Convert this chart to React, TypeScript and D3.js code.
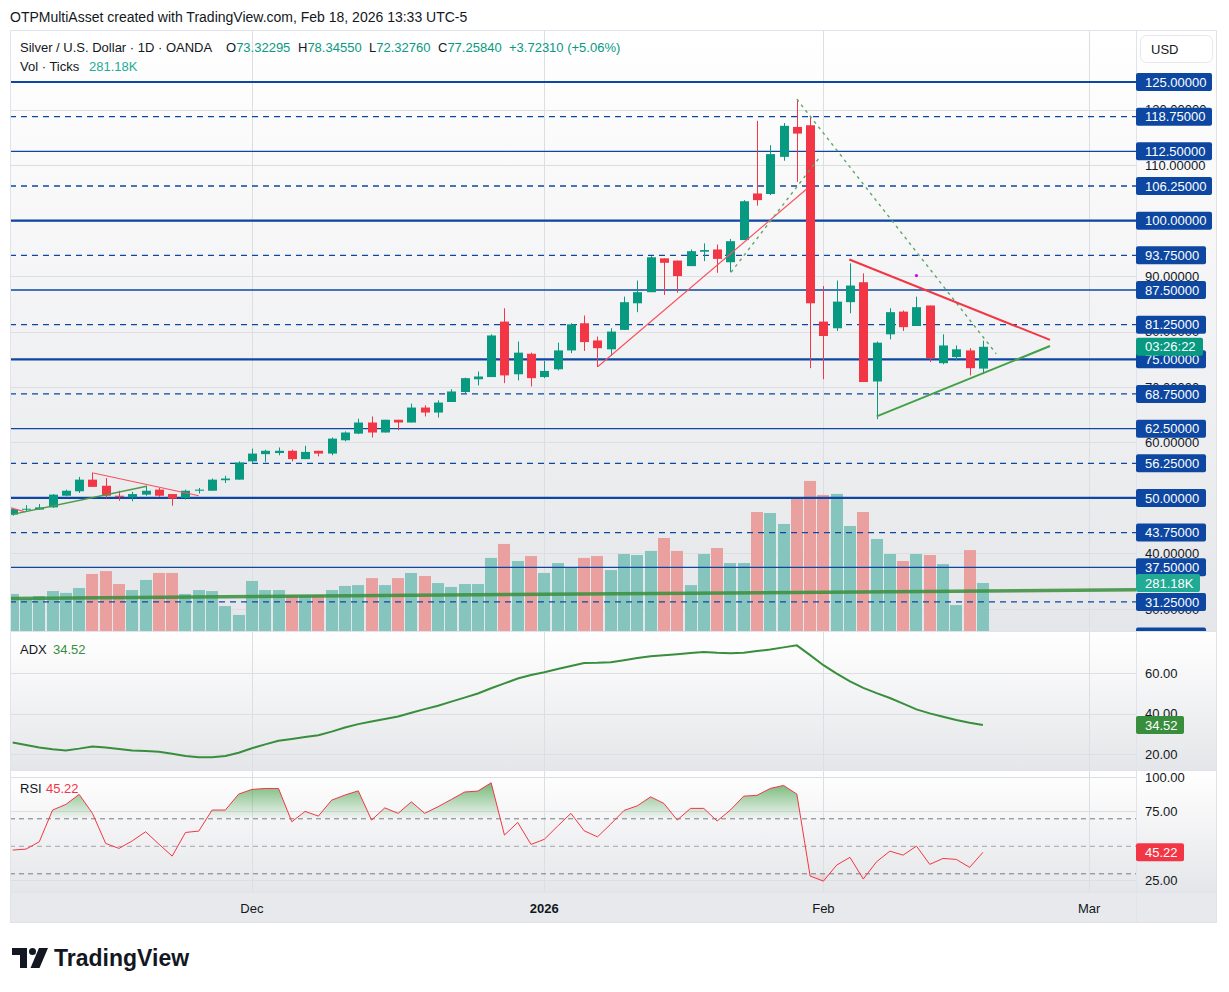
import * as React from 'react';
import { useEffect, useRef } from 'react';
import * as d3 from 'd3';

// Daily XAG/USD candles, one entry per trading day (index 0 = mid Nov, 73 = Feb 18)
const opens = [
  47.0, 48.0, 47.9, 48.3, 50.4, 51.2, 53.3, 52.2, 50.4, 50.1,
  50.6, 51.5, 50.7, 50.0, 51.3, 51.3, 53.2, 53.3, 56.6, 57.9,
  58.1, 58.5, 57.0, 58.5, 58.0, 60.4, 61.6, 63.6, 61.8, 64.1,
  63.6, 66.3, 65.4, 67.3, 69.1, 71.4, 71.8, 81.8, 72.3, 76.0,
  71.8, 73.2, 76.6, 81.5, 78.4, 76.8, 80.3, 85.1, 87.1, 93.2,
  92.8, 91.8, 94.4, 94.8, 92.5, 96.5, 104.9, 104.8, 111.5, 116.9,
  117.2, 81.8, 80.6, 85.3, 88.9, 71.0, 79.5, 83.6, 81.0, 84.7,
  74.3, 75.4, 76.6, 73.32295,
];
const highs = [
  48.2, 48.7, 48.9, 50.7, 51.5, 53.8, 54.6, 53.6, 51.3, 51.1,
  52.2, 51.8, 50.7, 51.5, 51.8, 53.5, 54.0, 56.6, 58.9, 58.7,
  59.1, 58.7, 59.4, 58.5, 60.9, 62.0, 64.3, 64.7, 64.1, 64.1,
  67.0, 66.7, 67.6, 69.6, 71.7, 72.8, 79.5, 84.2, 78.2, 76.2,
  74.7, 78.0, 81.5, 82.9, 79.1, 80.6, 86.3, 89.2, 93.6, 93.2,
  92.8, 94.8, 95.9, 95.7, 96.7, 103.7, 118.0, 113.6, 117.6, 121.9,
  118.7, 88.2, 89.2, 92.3, 90.5, 78.2, 84.2, 83.8, 86.3, 84.7,
  79.5, 77.5, 77.0, 78.3455,
];
const lows = [
  46.8, 47.5, 47.9, 48.2, 50.3, 50.9, 52.0, 50.0, 49.5, 49.4,
  50.4, 50.2, 48.6, 49.7, 50.8, 51.3, 52.7, 53.3, 56.2, 56.5,
  57.7, 56.6, 57.0, 57.5, 57.7, 60.2, 61.5, 60.9, 61.8, 62.2,
  63.6, 64.7, 64.5, 67.3, 68.9, 70.3, 71.8, 70.7, 71.2, 70.1,
  71.6, 73.0, 76.1, 76.5, 73.6, 75.6, 80.3, 83.5, 87.1, 86.6,
  87.0, 91.8, 92.7, 90.6, 90.7, 96.5, 102.7, 104.6, 110.8, 107.0,
  73.4, 71.4, 80.1, 83.3, 70.9, 64.2, 78.6, 80.1, 81.0, 74.5,
  74.1, 74.8, 72.1, 72.3276,
];
const closes = [
  48.0, 48.05, 48.3, 50.6, 51.3, 53.3, 52.0, 50.4, 50.2, 50.7,
  51.3, 50.4, 49.9, 51.3, 51.5, 53.3, 53.5, 56.4, 58.0, 58.5,
  58.5, 57.0, 58.3, 58.0, 60.7, 61.8, 63.6, 61.8, 64.1, 63.6,
  66.3, 65.4, 67.2, 69.2, 71.6, 71.9, 79.3, 72.1, 76.2, 71.6,
  72.9, 76.6, 81.3, 78.1, 77.0, 80.0, 85.3, 87.1, 93.4, 92.4,
  90.0, 94.5, 94.7, 93.1, 96.3, 103.5, 103.7, 112.0, 117.1, 115.7,
  85.1, 79.2, 85.4, 88.3, 70.9, 78.0, 83.5, 80.8, 84.4, 75.2,
  77.5, 76.8, 73.4, 77.2584,
];
// Tick volume, thousands
const volumes = [
  217, 188, 205, 234, 223, 252, 334, 351, 275, 240,
  299, 340, 340, 217, 240, 234, 146, 94, 293, 240,
  240, 211, 211, 211, 240, 264, 269, 310, 269, 310,
  340, 322, 281, 258, 275, 275, 428, 510, 410, 439,
  340, 398, 375, 428, 439, 357, 451, 445, 469, 545,
  469, 269, 451, 486, 398, 398, 697, 691, 627, 779,
  879, 797, 803, 615, 697, 539, 451, 410, 451, 445,
  392, 152, 474, 281.18,
];
const adxValues = [
  25.8, 24.6, 23.4, 22.5, 21.9, 22.8, 23.9, 23.3, 22.6, 21.9,
  21.6, 21.3, 20.3, 19.2, 18.5, 18.6, 19.2, 20.8, 23.0, 24.9,
  26.7, 27.6, 28.5, 29.4, 31.2, 33.2, 34.9, 36.2, 37.4, 38.7,
  40.5, 42.3, 44.0, 46.0, 48.0, 50.0, 52.6, 55.0, 57.4, 59.2,
  60.5, 62.1, 63.6, 65.1, 65.2, 65.5, 66.5, 67.6, 68.4, 68.9,
  69.4, 70.0, 70.5, 70.1, 69.9, 70.2, 71.0, 71.8, 72.8, 73.8,
  69.0, 64.0, 59.8, 56.0, 52.8, 50.2, 47.8, 45.0, 42.2, 40.2,
  38.5, 36.9, 35.6, 34.52,
];
const rsiValues = [
  46.9, 47.6, 52.9, 76.0, 80.1, 87.4, 73.6, 51.7, 48.1, 53.6,
  60.2, 51.2, 42.5, 59.7, 60.7, 76.0, 76.0, 87.6, 91.0, 91.7,
  91.7, 67.5, 75.0, 71.6, 83.2, 86.9, 90.0, 68.7, 77.6, 73.6,
  82.0, 73.6, 78.4, 83.7, 89.1, 89.8, 95.8, 57.8, 67.0, 51.0,
  54.7, 64.3, 73.6, 60.9, 56.5, 65.8, 75.7, 79.1, 85.6, 80.8,
  68.7, 77.2, 77.2, 68.0, 76.0, 86.1, 86.7, 91.7, 93.9, 87.6,
  28.0, 24.3, 36.0, 41.6, 25.8, 38.4, 46.1, 43.2, 49.8, 36.5,
  40.8, 40.1, 34.3, 45.22,
];

// Horizontal levels drawn on the chart
const priceLevels = [125, 118.75, 112.5, 106.25, 100, 93.75, 87.5, 81.25, 75, 68.75, 62.5, 56.25, 50, 43.75, 37.5, 31.25, 25];
const priceTicks = [120, 110, 100, 90, 80, 70, 60, 50, 40, 30];
const adxTicks = [20, 40, 60];
const rsiTicks = [25, 75, 100];
const rsiBands = [70, 50, 30];
const timeTicks = [
  { label: 'Dec', index: 18, bold: false },
  { label: '2026', index: 40, bold: true },
  { label: 'Feb', index: 61, bold: false },
  { label: 'Mar', index: 81, bold: false },
];

// Trend lines as [bar index, price] pairs
const trendLines = [
  { kind: 'redThin', points: [[-0.2, 48.25], [0.93, 47.5]] },
  { kind: 'greenThin', points: [[-0.1, 47.0], [10.08, 52.1]] },
  { kind: 'redThin', points: [[6.06, 54.5], [14.0, 50.4]] },
  { kind: 'redThin', points: [[44.04, 73.7], [59.74, 105.7]] },
  { kind: 'greenDash', points: [[54.05, 90.7], [60.74, 111.5]] },
  { kind: 'greenDash', points: [[59.0, 121.9], [74.0, 76.0]] },
  { kind: 'redThick', points: [[62.95, 93.0], [78.05, 78.5]] },
  { kind: 'greenThick', points: [[65.01, 64.7], [78.05, 77.4]] },
];
const volumeTrend = [[-0.2, 191], [84.52, 241]];
const markerPoint = [68, 90.1];

const FONT = '"Liberation Sans", Arial, sans-serif';
const UP = '#089981';
const DOWN = '#f23645';
const TEXT = '#131722';
const LEVEL = '#0d47a1';

const App: React.FC = () => {
  const svgRef = useRef<SVGSVGElement>(null);

  useEffect(() => {
    document.body.style.margin = '0';
    const svg = d3.select(svgRef.current);
    svg.selectAll('*').remove();

    const left = 10, right = 1136, axisRight = 1217;
    const main = { top: 30, bottom: 631 };
    const adxPane = { top: 632, bottom: 770 };
    const rsiPane = { top: 771, bottom: 892 };
    const timeRow = { top: 893, bottom: 922 };

    const x = d3.scaleLinear().domain([0, 73]).range([12.7, 982.9]);
    const y = d3.scaleLinear().domain([25, 125]).range([636.6, 82]);
    const vy = d3.scaleLinear().domain([0, 3520]).range([main.bottom, main.top]);
    const adxY = d3.scaleLinear().domain([20, 60]).range([754.3, 673.3]);
    const rsiY = d3.scaleLinear().domain([30, 70]).range([873.3, 818.3]);

    const defs = svg.append('defs');
    const bg = defs.append('linearGradient').attr('id', 'paneBg').attr('x1', 0).attr('y1', 0).attr('x2', 0).attr('y2', 1);
    bg.append('stop').attr('offset', '0%').attr('stop-color', '#ffffff');
    bg.append('stop').attr('offset', '100%').attr('stop-color', '#e5e6e9');

    const ob = defs.append('linearGradient').attr('id', 'obFill').attr('gradientUnits', 'userSpaceOnUse')
      .attr('x1', 0).attr('y1', rsiY(100)).attr('x2', 0).attr('y2', rsiY(70));
    ob.append('stop').attr('offset', '0%').attr('stop-color', '#43a047').attr('stop-opacity', 0.85);
    ob.append('stop').attr('offset', '100%').attr('stop-color', '#43a047').attr('stop-opacity', 0.03);
    const os = defs.append('linearGradient').attr('id', 'osFill').attr('gradientUnits', 'userSpaceOnUse')
      .attr('x1', 0).attr('y1', rsiY(30)).attr('x2', 0).attr('y2', rsiY(0));
    os.append('stop').attr('offset', '0%').attr('stop-color', DOWN).attr('stop-opacity', 0.03);
    os.append('stop').attr('offset', '100%').attr('stop-color', DOWN).attr('stop-opacity', 0.85);

    const clip = (id: string, x0: number, y0: number, w: number, h: number) => {
      defs.append('clipPath').attr('id', id).append('rect').attr('x', x0).attr('y', y0).attr('width', w).attr('height', h);
      return `url(#${id})`;
    };
    const mainClip = clip('mainClip', left, main.top, right - left, main.bottom - main.top);
    const adxClip = clip('adxClip', left, adxPane.top, right - left, adxPane.bottom - adxPane.top);
    const rsiClip = clip('rsiClip', left, rsiPane.top, right - left, rsiPane.bottom - rsiPane.top);
    const obClip = clip('obClip', left, rsiPane.top, right - left, rsiY(70) - rsiPane.top);
    const osClip = clip('osClip', left, rsiY(30), right - left, rsiPane.bottom - rsiY(30));
    const axisClip = clip('axisClip', right, main.top, axisRight - right, main.bottom - main.top);

    // header
    svg.append('text').attr('x', 10).attr('y', 22).attr('font-family', FONT).attr('font-size', 14)
      .attr('fill', TEXT).text('OTPMultiAsset created with TradingView.com, Feb 18, 2026 13:33 UTC-5');

    // pane backgrounds
    [main, adxPane, rsiPane].forEach(p => {
      svg.append('rect').attr('x', left).attr('y', p.top).attr('width', axisRight - left)
        .attr('height', p.bottom - p.top).attr('fill', 'url(#paneBg)');
    });
    svg.append('rect').attr('x', left).attr('y', timeRow.top - 1).attr('width', axisRight - left)
      .attr('height', timeRow.bottom - timeRow.top + 1).attr('fill', '#e8e9ec');

    // grid
    const grid = svg.append('g').attr('stroke', '#dcdee2').attr('stroke-width', 1);
    timeTicks.forEach(t => {
      const gx = Math.round(x(t.index)) + 0.5;
      grid.append('line').attr('x1', gx).attr('x2', gx).attr('y1', main.top).attr('y2', rsiPane.bottom);
    });
    priceTicks.forEach(v => {
      const gy = Math.round(y(v)) + 0.5;
      grid.append('line').attr('x1', left).attr('x2', right).attr('y1', gy).attr('y2', gy);
    });
    adxTicks.forEach(v => {
      const gy = Math.round(adxY(v)) + 0.5;
      grid.append('line').attr('x1', left).attr('x2', right).attr('y1', gy).attr('y2', gy);
    });
    rsiTicks.forEach(v => {
      const gy = Math.round(rsiY(v)) + 0.5;
      grid.append('line').attr('x1', left).attr('x2', right).attr('y1', gy).attr('y2', gy);
    });

    // main pane
    const mg = svg.append('g').attr('clip-path', mainClip);

    // volume histogram
    mg.append('g').selectAll('rect').data(volumes).enter().append('rect')
      .attr('x', (_, i) => Math.round(x(i)) - 6)
      .attr('width', 12)
      .attr('y', d => vy(d))
      .attr('height', d => main.bottom - vy(d))
      .attr('fill', (_, i) => (closes[i] >= opens[i] ? '#86c5bd' : '#eba0a0'));

    mg.append('line')
      .attr('x1', x(volumeTrend[0][0])).attr('y1', vy(volumeTrend[0][1]))
      .attr('x2', x(volumeTrend[1][0])).attr('y2', vy(volumeTrend[1][1]))
      .attr('stroke', '#388e3c').attr('stroke-width', 3.5).attr('stroke-opacity', 0.85);

    // horizontal levels
    priceLevels.forEach(v => {
      const major = v % 25 === 0;
      const solid = v % 12.5 === 0;
      mg.append('line').attr('x1', left).attr('x2', right).attr('y1', y(v)).attr('y2', y(v))
        .attr('stroke', LEVEL)
        .attr('stroke-width', major ? 2.2 : 1.3)
        .attr('stroke-dasharray', solid ? null : '6,5');
    });

    // candles
    const candles = mg.append('g');
    opens.forEach((o, i) => {
      const c = closes[i];
      const color = c >= o ? UP : DOWN;
      const cx = Math.round(x(i));
      candles.append('line').attr('x1', cx + 0.5).attr('x2', cx + 0.5)
        .attr('y1', y(highs[i])).attr('y2', y(lows[i])).attr('stroke', color).attr('stroke-width', 1);
      const top = y(Math.max(o, c));
      const h = Math.max(1, y(Math.min(o, c)) - top);
      candles.append('rect').attr('x', cx - 4).attr('y', top).attr('width', 9).attr('height', h).attr('fill', color);
    });

    // trend lines
    const lineStyle: Record<string, { color: string; width: number; dash: string | null }> = {
      redThin: { color: '#f7525f', width: 1.2, dash: null },
      greenThin: { color: '#4c9a4a', width: 1.4, dash: null },
      greenDash: { color: '#5fa865', width: 1.4, dash: '3,4' },
      redThick: { color: DOWN, width: 2, dash: null },
      greenThick: { color: '#43a047', width: 2, dash: null },
    };
    trendLines.forEach(t => {
      const s = lineStyle[t.kind];
      mg.append('line')
        .attr('x1', x(t.points[0][0])).attr('y1', y(t.points[0][1]))
        .attr('x2', x(t.points[1][0])).attr('y2', y(t.points[1][1]))
        .attr('stroke', s.color).attr('stroke-width', s.width)
        .attr('stroke-dasharray', s.dash);
    });
    mg.append('circle').attr('cx', x(markerPoint[0])).attr('cy', y(markerPoint[1])).attr('r', 1.6).attr('fill', '#d500f9');

    // ADX pane
    const ag = svg.append('g').attr('clip-path', adxClip);
    ag.append('path').datum(adxValues)
      .attr('d', d3.line<number>().x((_, i) => x(i)).y(d => adxY(d)))
      .attr('fill', 'none').attr('stroke', '#388e3c').attr('stroke-width', 2);

    // RSI pane
    const rg = svg.append('g').attr('clip-path', rsiClip);
    rg.append('path').datum(rsiValues).attr('clip-path', obClip)
      .attr('d', d3.area<number>().x((_, i) => x(i)).y0(rsiY(70)).y1(d => rsiY(d)))
      .attr('fill', 'url(#obFill)');
    rg.append('path').datum(rsiValues).attr('clip-path', osClip)
      .attr('d', d3.area<number>().x((_, i) => x(i)).y0(rsiY(30)).y1(d => rsiY(d)))
      .attr('fill', 'url(#osFill)');
    rsiBands.forEach(v => {
      rg.append('line').attr('x1', left).attr('x2', right).attr('y1', rsiY(v) + 0.5).attr('y2', rsiY(v) + 0.5)
        .attr('stroke', v === 50 ? '#a3a6af' : '#787b86').attr('stroke-width', 1).attr('stroke-dasharray', '5,4');
    });
    rg.append('path').datum(rsiValues)
      .attr('d', d3.line<number>().x((_, i) => x(i)).y(d => rsiY(d)))
      .attr('fill', 'none').attr('stroke', DOWN).attr('stroke-width', 1);

    // separators and frame
    const sep = svg.append('g').attr('stroke', '#e0e3eb').attr('stroke-width', 1);
    [main.bottom, adxPane.bottom, rsiPane.bottom].forEach(sy => {
      sep.append('line').attr('x1', left).attr('x2', axisRight).attr('y1', sy + 0.5).attr('y2', sy + 0.5);
    });
    sep.append('line').attr('x1', right + 0.5).attr('x2', right + 0.5).attr('y1', main.top).attr('y2', timeRow.bottom);
    svg.append('rect').attr('x', left + 0.5).attr('y', main.top + 0.5).attr('width', axisRight - left - 1)
      .attr('height', timeRow.bottom - main.top).attr('fill', 'none').attr('stroke', '#e0e3eb');

    // legends
    const legend = svg.append('g').attr('font-family', FONT).attr('font-size', 13);
    const l1 = legend.append('text').attr('y', 52).attr('fill', TEXT);
    l1.append('tspan').attr('x', 20).text('Silver / U.S. Dollar · 1D · OANDA');
    [['O', '73.32295', 226], ['H', '78.34550', 298], ['L', '72.32760', 369], ['C', '77.25840', 438]].forEach(([k, v, px]) => {
      l1.append('tspan').attr('x', px as number).text(k as string);
      l1.append('tspan').attr('fill', UP).text(v as string);
    });
    l1.append('tspan').attr('x', 509).attr('fill', UP).text('+3.72310 (+5.06%)');
    const l2 = legend.append('text').attr('y', 71).attr('fill', TEXT);
    l2.append('tspan').attr('x', 20).text('Vol · Ticks');
    l2.append('tspan').attr('x', 89).attr('fill', '#22ab94').text('281.18K');
    const l3 = legend.append('text').attr('y', 654).attr('fill', TEXT);
    l3.append('tspan').attr('x', 20).text('ADX');
    l3.append('tspan').attr('x', 53).attr('fill', '#388e3c').text('34.52');
    const l4 = legend.append('text').attr('y', 793).attr('fill', TEXT);
    l4.append('tspan').attr('x', 20).text('RSI');
    l4.append('tspan').attr('x', 46).attr('fill', DOWN).text('45.22');

    // price axis
    const ax = svg.append('g').attr('font-family', FONT).attr('font-size', 13);
    const axMain = ax.append('g').attr('clip-path', axisClip);
    const plain = (g: d3.Selection<SVGGElement, unknown, null, undefined>, yy: number, t: string) => {
      g.append('text').attr('x', 1145).attr('y', yy).attr('dy', '0.36em').attr('fill', TEXT).text(t);
    };
    const badge = (g: d3.Selection<SVGGElement, unknown, null, undefined>, yy: number, t: string, fill: string, w: number) => {
      g.append('rect').attr('x', right).attr('y', yy - 9).attr('width', w).attr('height', 18).attr('rx', 2).attr('fill', fill);
      g.append('text').attr('x', 1145).attr('y', yy).attr('dy', '0.36em').attr('fill', '#ffffff').text(t);
    };
    priceTicks.forEach(v => plain(axMain, y(v), v.toFixed(5)));
    priceLevels.forEach(v => {
      const t = v.toFixed(5);
      badge(axMain, y(v), t, LEVEL, t.length === 9 ? 76 : 70);
    });
    badge(axMain, vy(volumes[volumes.length - 1]), '281.18K', '#22ab94', 64);
    badge(axMain, y(closes[closes.length - 1]), '03:26:22', UP, 67);

    adxTicks.forEach(v => plain(ax, adxY(v), v.toFixed(2)));
    badge(ax, adxY(adxValues[adxValues.length - 1]), '34.52', '#388e3c', 48);
    rsiTicks.forEach(v => plain(ax, rsiY(v), v.toFixed(2)));
    badge(ax, rsiY(rsiValues[rsiValues.length - 1]), '45.22', DOWN, 48);

    // currency button
    ax.append('rect').attr('x', 1140.5).attr('y', 35.5).attr('width', 72).attr('height', 27).attr('rx', 6)
      .attr('fill', '#ffffff').attr('stroke', '#e6e8ee');
    ax.append('text').attr('x', 1151).attr('y', 49).attr('dy', '0.36em').attr('fill', TEXT).text('USD');

    // time axis
    timeTicks.forEach(t => {
      ax.append('text').attr('x', x(t.index)).attr('y', 908).attr('dy', '0.36em').attr('text-anchor', 'middle')
        .attr('fill', TEXT).attr('font-weight', t.bold ? 'bold' : 'normal').text(t.label);
    });

    // logo
    const logo = svg.append('g').attr('fill', TEXT);
    logo.append('path').attr('d', 'M12 948 H27 V968 H20 V955 H12 Z');
    logo.append('circle').attr('cx', 32.5).attr('cy', 951.5).attr('r', 3.5);
    logo.append('path').attr('d', 'M39 948 H48 L39.5 968 H30.5 Z');
    logo.append('text').attr('x', 54).attr('y', 966).attr('font-family', FONT).attr('font-size', 23)
      .attr('font-weight', 'bold').text('TradingView');
  }, []);

  return <svg ref={svgRef} width={1229} height={992} style={{ display: 'block', background: '#ffffff' }}></svg>;
};

export default App;
